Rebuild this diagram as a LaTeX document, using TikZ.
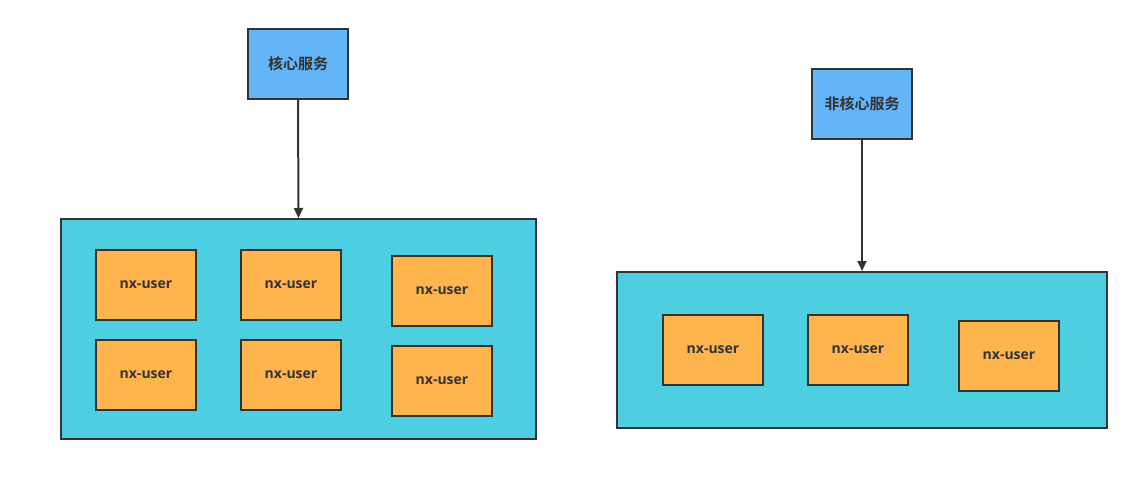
\documentclass[tikz,border=0pt]{standalone}
\usepackage{fontspec}
\setmainfont{Open Sans}[BoldFont={* Bold}]
\newfontfamily\cjk{Noto Sans CJK SC}[BoldFont={Noto Sans CJK SC Bold}]
\usetikzlibrary{arrows.meta}
\definecolor{svcblue}{HTML}{63B5F7}
\definecolor{grpcyan}{HTML}{4DCFE1}
\definecolor{useror}{HTML}{FFB54D}
\definecolor{edge}{HTML}{333333}
\begin{document}
\begin{tikzpicture}[x=1pt,y=-1pt,
  svc/.style={draw=edge,line width=2pt,fill=svcblue,minimum width=100pt,minimum height=70pt,inner sep=0pt,font=\cjk\bfseries\fontsize{15}{17}\selectfont,text=edge},
  grp/.style={draw=edge,line width=2pt,fill=grpcyan,inner sep=0pt},
  usr/.style={draw=edge,line width=2pt,fill=useror,minimum width=100pt,minimum height=70pt,inner sep=0pt,font=\bfseries\fontsize{14}{16}\selectfont,text=edge},
  conn/.style={draw=edge,line width=2pt,-{Triangle[length=10pt,width=9pt]}}]
\useasboundingbox (0,0) rectangle (1139,476);
\node[svc] (core) at (298,64) {核心服务};
\node[svc] (noncore) at (862,104) {非核心服务};
\node[grp,minimum width=475pt,minimum height=220pt] (gl) at (298.5,329) {};
\node[grp,minimum width=490pt,minimum height=156pt] (gr) at (862,350) {};
\node[usr] (u1) at (146,285) {nx-user};
\node[usr] (u2) at (291,285) {nx-user};
\node[usr] (u3) at (442,291) {nx-user};
\node[usr] (u4) at (146,375) {nx-user};
\node[usr] (u5) at (291,375) {nx-user};
\node[usr] (u6) at (442,381) {nx-user};
\node[usr] (u7) at (713,350) {nx-user};
\node[usr] (u8) at (858,350) {nx-user};
\node[usr] (u9) at (1009,356) {nx-user};
\draw[conn] (core.south) -- (gl.north);
\draw[conn] (noncore.south) -- (gr.north);
\end{tikzpicture}
\end{document}
